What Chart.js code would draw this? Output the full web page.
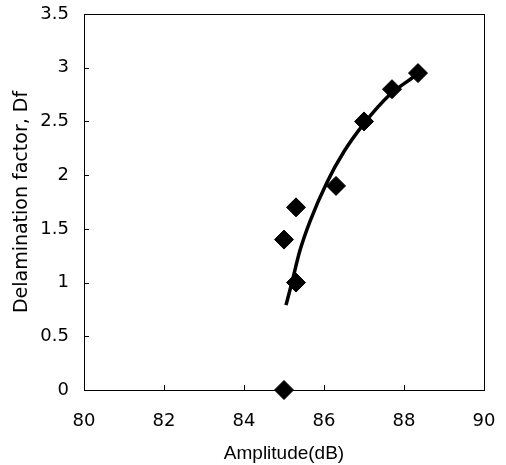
<!DOCTYPE html>
<html>
<head>
<meta charset="utf-8">
<script src="https://cdn.jsdelivr.net/npm/chart.js@4/dist/chart.umd.min.js"></script>
<style>
html,body{margin:0;padding:0;background:#fff;}
#wrap{width:506px;height:465px;}
</style>
</head>
<body>
<div id="wrap"><canvas id="c" width="506" height="465"></canvas></div>
<script>
// Measured data points (Amplitude dB, Delamination factor)
const amplitudes = [85.0, 85.0, 85.3, 85.3, 86.3, 87.0, 87.7, 88.35];
const dfValues   = [0.0, 1.4, 1.7, 1.0, 1.9, 2.5, 2.8, 2.95];
// Fitted curve
const fitAmplitudes = [85.05, 85.19, 85.4, 85.65, 86.07, 86.5, 87.0, 87.65, 88.3];
const fitDf         = [0.79, 0.99, 1.30, 1.57, 1.93, 2.22, 2.48, 2.75, 2.93];
// Axis ticks
const xTicks = [80, 82, 84, 86, 88, 90];
const yTicks = [0, 0.5, 1, 1.5, 2, 2.5, 3, 3.5];

const SANS = "'Liberation Sans', Arial, sans-serif";
const DEJA = "'DejaVu Sans', sans-serif";

const frame = {
  id: 'frame',
  afterDraw(chart) {
    const {ctx, chartArea: a, scales} = chart;
    ctx.save();
    ctx.strokeStyle = '#000';
    ctx.lineWidth = 1;
    ctx.strokeRect(a.left + 0.5, a.top + 0.5, a.right - a.left, a.bottom - a.top);
    ctx.beginPath();
    scales.x.ticks.forEach(t => {
      const px = Math.round(scales.x.getPixelForValue(t.value)) + 0.5;
      ctx.moveTo(px, a.bottom); ctx.lineTo(px, a.bottom - 5);
    });
    scales.y.ticks.forEach(t => {
      const py = Math.round(scales.y.getPixelForValue(t.value)) + 0.5;
      ctx.moveTo(a.left, py); ctx.lineTo(a.left + 5, py);
    });
    ctx.stroke();
    ctx.restore();
  }
};

new Chart(document.getElementById('c'), {
  type: 'scatter',
  data: {
    datasets: [
      {
        type: 'line',
        data: fitAmplitudes.map((x, i) => ({x, y: fitDf[i]})),
        borderColor: '#000',
        borderWidth: 3.5,
        pointRadius: 0,
        fill: false,
        cubicInterpolationMode: 'monotone',
        order: 2
      },
      {
        data: amplitudes.map((x, i) => ({x, y: dfValues[i]})),
        pointStyle: 'rectRot',
        pointRadius: 9.5,
        backgroundColor: '#000',
        borderColor: '#000',
        borderWidth: 1,
        clip: false,
        order: 1
      }
    ]
  },
  options: {
    responsive: false,
    animation: false,
    layout: {padding: {left: 0, right: 22, top: 14, bottom: 0}},
    plugins: {legend: {display: false}, tooltip: {enabled: false}},
    scales: {
      x: {
        type: 'linear', min: 80, max: 90,
        afterBuildTicks: s => { s.ticks = xTicks.map(v => ({value: v})); },
        afterFit: s => { s.height = 75; s.paddingLeft = 0; s.paddingRight = 0; },
        grid: {display: false, drawTicks: false},
        border: {display: false},
        ticks: {color: '#000', font: {family: DEJA, size: 18}, padding: 21, maxRotation: 0,
                callback: v => String(v)},
        title: {display: true, text: 'Amplitude(dB)', color: '#000', font: {family: SANS, size: 19}, padding: {top: 4, bottom: 0}}
      },
      y: {
        type: 'linear', min: 0, max: 3.5,
        afterBuildTicks: s => { s.ticks = yTicks.map(v => ({value: v})); },
        afterFit: s => { s.width = 84; s.paddingTop = 0; s.paddingBottom = 0; },
        grid: {display: false, drawTicks: false},
        border: {display: false},
        ticks: {color: '#000', font: {family: DEJA, size: 18}, padding: 15,
                callback: v => String(v)},
        title: {display: true, text: 'Delamination factor, Df', color: '#000', font: {family: DEJA, size: 19}, padding: {top: 11, bottom: 0}}
      }
    }
  },
  plugins: [frame]
});
</script>
</body>
</html>
